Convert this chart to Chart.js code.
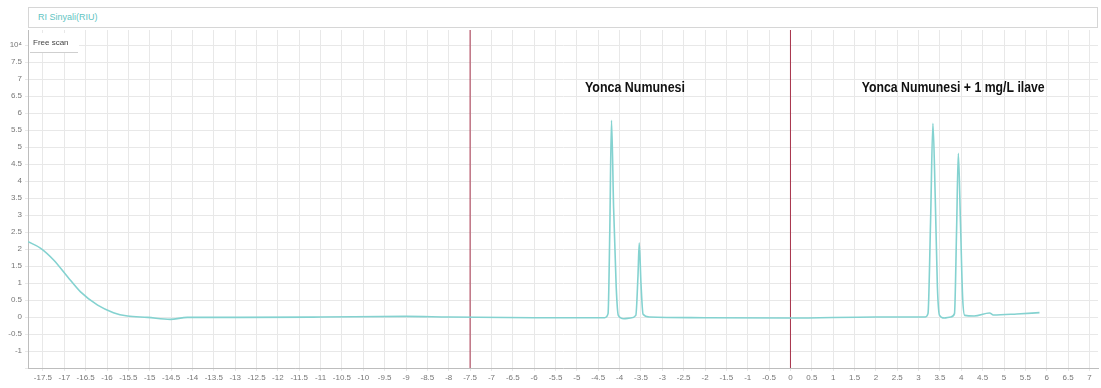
<!DOCTYPE html>
<html>
<head>
<meta charset="utf-8">
<script src="https://cdn.jsdelivr.net/npm/chart.js@4.4.1/dist/chart.umd.min.js"></script>
<style>
body{margin:0;background:#fff;}
#wrap{position:relative;width:1101px;height:388px;}
#head{position:absolute;left:28px;top:7px;width:1070px;height:21px;border:1px solid #d6d6d6;box-sizing:border-box;
  font:9px 'Liberation Sans',sans-serif;color:#5fc4c2;line-height:19px;padding-left:9px;background:#fff;}
</style>
</head>
<body>
<div id="wrap"><canvas id="mycanvas"></canvas><div id="head">RI Sinyali(RIU)</div></div>
<script>
// retention time (min) and detector signal (x10^4)
let retention = [-17.85, -17.56, -17.25, -16.92, -16.62, -16.22, -15.85, -15.52, -15.05, -14.52, -14.12, -12.88,
  -11.0, -9.0, -8.0, -6.0, -4.35, -4.27, -4.23, -4.19, -4.14, -4.08, -4.03, -3.9, -3.75,
  -3.62, -3.57, -3.54, -3.50, -3.45, -3.3, -2.0, 0.0, 2.0, 3.15,
  3.22, 3.28, 3.335, 3.39, 3.44, 3.49, 3.6, 3.75, 3.84, 3.89, 3.93, 3.98, 4.03, 4.08,
  4.3, 4.66, 4.75, 5.3, 5.83];
let signal = [2.22, 2.03, 1.68, 1.18, 0.74, 0.35, 0.13, 0.03, -0.01, -0.07, -0.01, -0.01,
  0.0, 0.02, 0.0, -0.02, -0.02, 0.1, 2.5, 5.79, 3.2, 0.9, 0.05, -0.05, -0.03,
  0.05, 1.2, 2.18, 1.0, 0.08, 0.0, -0.02, -0.03, 0.0, 0.0,
  0.1, 2.8, 5.70, 3.5, 0.9, 0.05, -0.03, 0.0, 0.1, 2.6, 4.82, 2.8, 0.6, 0.05,
  0.03, 0.12, 0.06, 0.09, 0.13];
let markerTimes = [-7.5, 0];
let noteText = ["Yonca Numunesi", "Yonca Numunesi + 1 mg/L ilave"];
let noteTime = [-3.64, 3.81];
let noteSignal = [6.74, 6.74];
let xTicks = [];
for (let v = -17.5; v <= 7; v += 0.5) xTicks.push(v);
let yTicks = [];
for (let v = -1.5; v <= 8; v += 0.5) yTicks.push(v);

const yMin = -1.5, yMax = 8.45;

let datasets = [{
  data: retention.map((t, i) => ({x: t, y: signal[i]})),
  borderColor: '#84d2d0',
  borderWidth: 1.6,
  pointRadius: 0,
  cubicInterpolationMode: 'monotone'
}];
markerTimes.forEach(t => {
  datasets.push({
    data: [{x: t, y: yMin}, {x: t, y: yMax}],
    borderColor: '#a8324a',
    borderWidth: 1,
    pointRadius: 0
  });
});

const notes = {
  id: 'notes',
  afterDatasetsDraw(chart) {
    const {ctx, chartArea: a} = chart;
    const x = chart.scales.x, y = chart.scales.y;
    const widths = [100, 183];
    ctx.save();
    ctx.fillStyle = '#111';
    ctx.font = 'bold 14px "Liberation Sans Narrow","Liberation Sans",sans-serif';
    ctx.textAlign = 'center';
    ctx.textBaseline = 'middle';
    noteText.forEach((t, i) => ctx.fillText(t, x.getPixelForValue(noteTime[i]), y.getPixelForValue(noteSignal[i]), widths[i]));
    // free scan tag
    ctx.fillStyle = '#fff';
    ctx.fillRect(a.left + 1, a.top + 3, 50, 19);
    ctx.font = '8px "Liberation Sans",sans-serif';
    ctx.fillStyle = '#444';
    ctx.textAlign = 'left';
    ctx.fillText('Free scan', a.left + 5, a.top + 13);
    ctx.strokeStyle = '#cfcfcf';
    ctx.beginPath();
    ctx.moveTo(a.left + 2, a.top + 22.5);
    ctx.lineTo(a.left + 50, a.top + 22.5);
    ctx.stroke();
    ctx.restore();
  }
};

var ctx = document.getElementById("mycanvas").getContext('2d');
var myChart = new Chart(ctx, {
  type: 'line',
  data: {datasets: datasets},
  plugins: [notes],
  options: {
    responsive: true,
    maintainAspectRatio: false,
    animation: false,
    layout: {padding: {top: 30, right: 3, left: 0, bottom: 0}},
    plugins: {legend: {display: false}, tooltip: {enabled: false}},
    scales: {
      x: {
        type: 'linear',
        min: -17.85,
        max: 7.2,
        afterBuildTicks: s => { s.ticks = xTicks.map(v => ({value: v})); },
        afterFit: s => { s.height = 20; },
        grid: {color: '#e8e8e8', tickLength: 3},
        border: {color: '#bdbdbd'},
        ticks: {
          autoSkip: false, maxRotation: 0, padding: 2,
          font: {size: 8, family: 'Liberation Sans'}, color: '#777',
          callback: v => String(v)
        }
      },
      y: {
        min: yMin,
        max: yMax,
        afterBuildTicks: s => { s.ticks = yTicks.map(v => ({value: v})); },
        afterFit: s => { s.width = 28; },
        grid: {color: '#e8e8e8', tickLength: 3},
        border: {color: '#bdbdbd'},
        ticks: {
          padding: 3,
          font: {size: 8, family: 'Liberation Sans'}, color: '#777',
          callback: v => v == 8 ? '10\u2074' : (v == -1.5 ? '' : String(v))
        }
      }
    }
  }
});
</script>
</body>
</html>
